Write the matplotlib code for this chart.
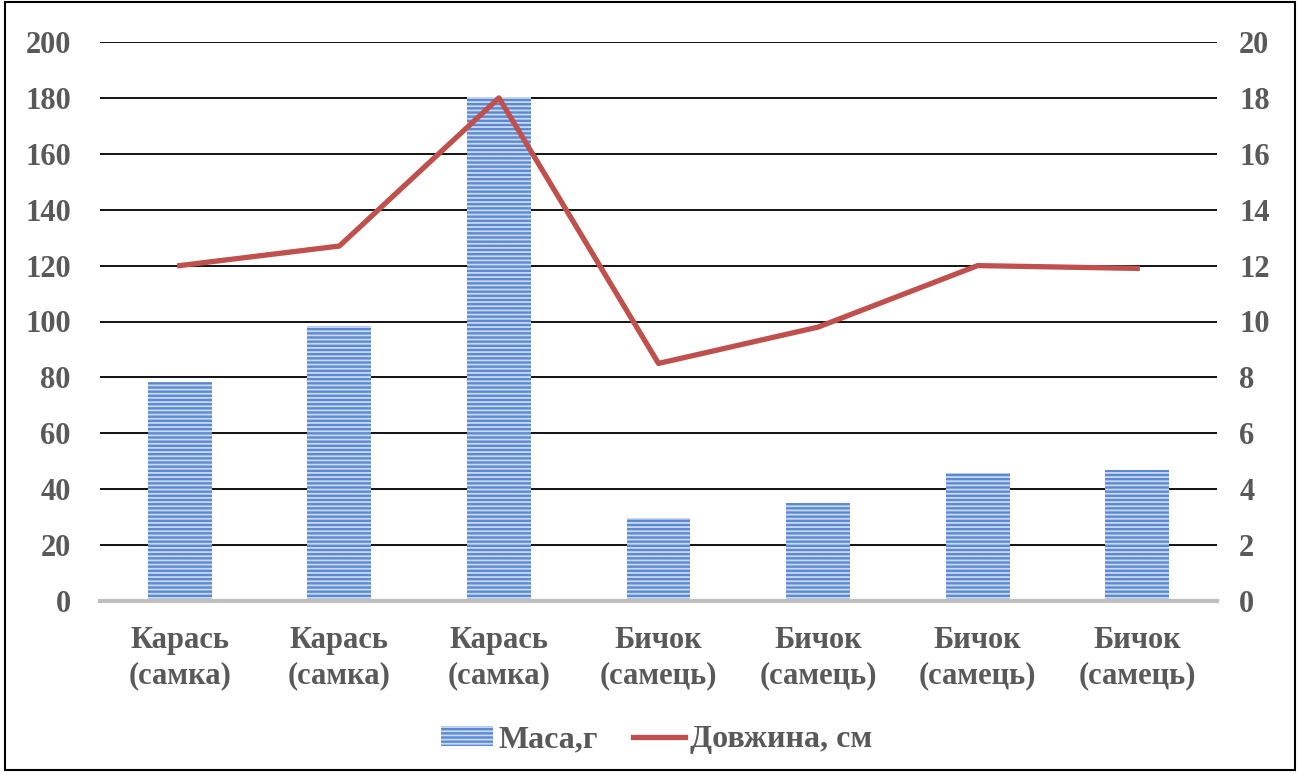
import matplotlib.pyplot as plt
from matplotlib.patches import Rectangle

plt.rcParams['font.family'] = ['Liberation Serif', 'DejaVu Serif']
plt.rcParams['font.weight'] = 'bold'
plt.rcParams['hatch.linewidth'] = 1.3

categories = ['Карась\n(самка)', 'Карась\n(самка)', 'Карась\n(самка)',
              'Бичок\n(самець)', 'Бичок\n(самець)', 'Бичок\n(самець)', 'Бичок\n(самець)']
mass = [78.5, 98.5, 180.3, 29.7, 35.0, 45.8, 46.9]
length = [12.0, 12.7, 18.0, 8.5, 9.8, 12.0, 11.9]

grey = '#595959'
x = range(len(categories))

fig = plt.figure(figsize=(13, 7.72), dpi=100)
ax = fig.add_axes([100 / 1300, 1 - 601 / 772, 1117 / 1300, 559 / 772])
ax2 = ax.twinx()

ax.set_axisbelow(True)
ax.bar(x, mass, width=0.4, color='#5b8ad2', edgecolor='#c9d9f2', hatch='----',
       linewidth=0, label='Маса,г', zorder=2)
ax2.plot(x, length, color='#c0504d', linewidth=3.8, label='Довжина, см', zorder=3)

ax.set_xlim(-0.5, len(categories) - 0.5)
ax.set_ylim(0, 200)
ax2.set_ylim(0, 20)
ax.set_yticks(range(0, 201, 20))
ax2.set_yticks(range(0, 21, 2))
ax.yaxis.grid(True, color='black', linewidth=1.3)
ax.set_xticks(list(x))
ax.set_xticklabels(categories, fontsize=23.5, color=grey, linespacing=1.3)

for a in (ax, ax2):
    for s in a.spines.values():
        s.set_visible(False)
    a.tick_params(length=0, labelsize=22, labelcolor=grey)
ax.tick_params(axis='y', pad=21)
ax2.tick_params(axis='y', pad=16)
ax.tick_params(axis='x', pad=18)
ax.spines['bottom'].set_visible(True)
ax.spines['bottom'].set_color('#bfbfbf')
ax.spines['bottom'].set_linewidth(3)

h1, l1 = ax.get_legend_handles_labels()
h2, l2 = ax2.get_legend_handles_labels()
fig.legend(h1 + h2, l1 + l2, loc='center', bbox_to_anchor=(0.505, 1 - 740 / 772), ncol=2,
           frameon=False, fontsize=23, labelcolor=grey, handlelength=1.65,
           handleheight=0.6, columnspacing=1.1, handletextpad=0.15)

fig.patches.append(Rectangle((0.004, 0.003), 0.992, 0.994, transform=fig.transFigure,
                             fill=False, edgecolor='black', linewidth=1.5))

fig.savefig('out.png', dpi=100)
